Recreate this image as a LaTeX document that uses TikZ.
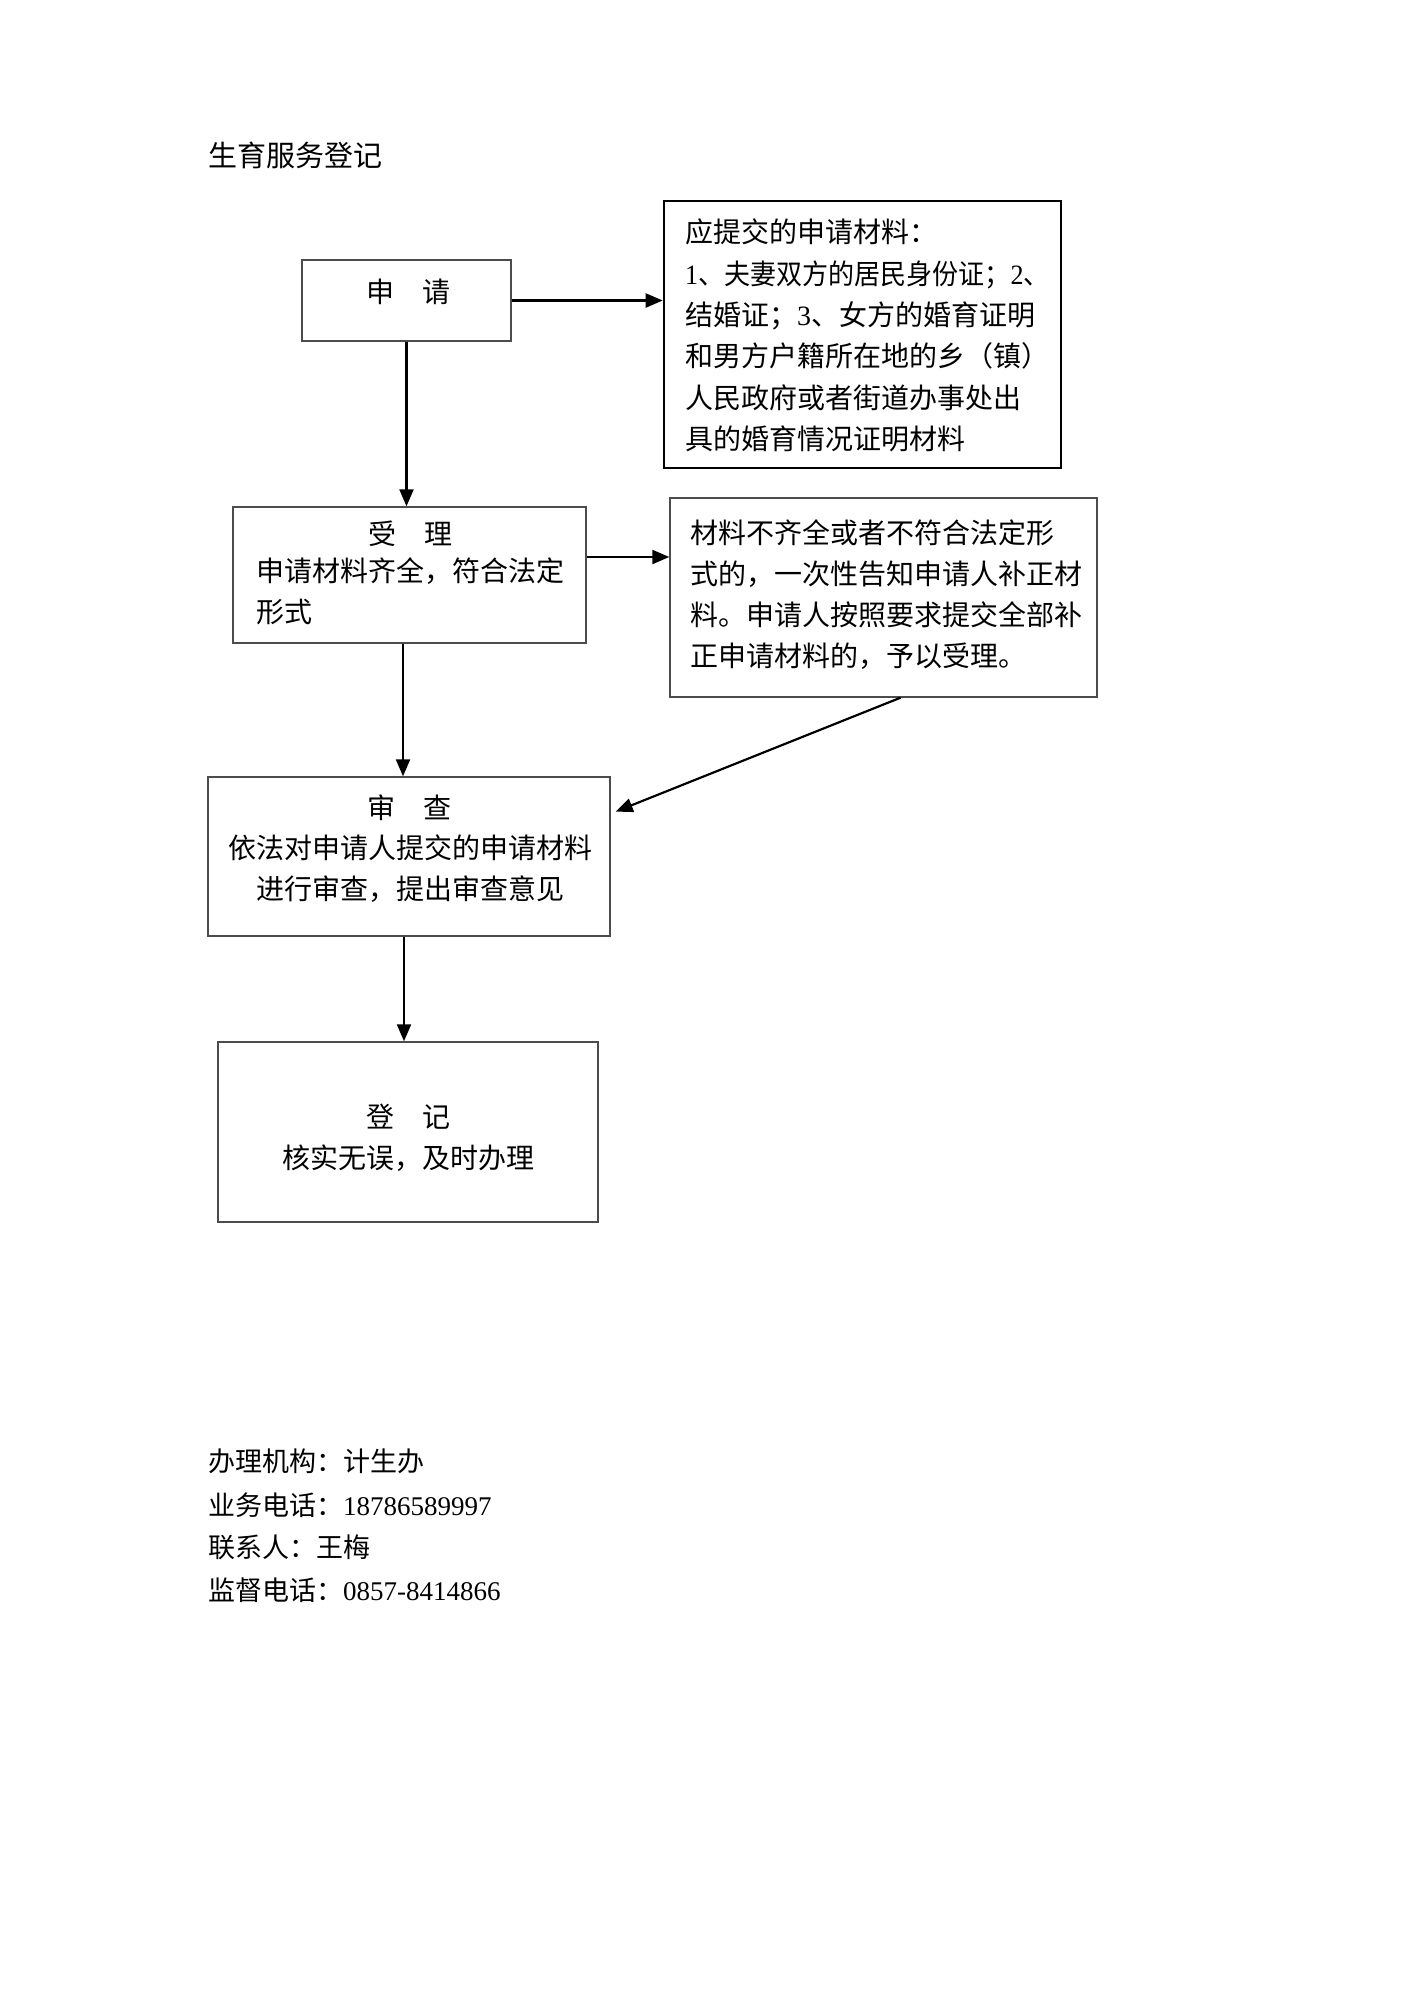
\documentclass[tikz,border=0pt]{standalone}
\usepackage{fontspec}
\setmainfont{Liberation Serif}
\newfontfamily\cjk{Noto Sans CJK SC}
\newfontfamily\cjkn[FakeStretch=0.93]{Noto Sans CJK SC}
\newfontfamily\serifn[FakeStretch=0.93]{Liberation Serif}
\usetikzlibrary{arrows.meta,calc}
\begin{document}
\begin{tikzpicture}[x=1pt,y=-1pt,
  box/.style={draw=black!70,line width=1.4pt,rectangle,inner sep=0pt},
  boldbox/.style={draw=black,line width=2.6pt,rectangle,inner sep=0pt},
  txt/.style={font=\cjk\fontsize{28}{41}\selectfont,inner sep=0pt,align=left},
  ctxt/.style={font=\cjk\fontsize{28}{41}\selectfont,inner sep=0pt,align=center},
  ntxt/.style={font=\cjk\fontsize{28}{41.3}\selectfont,inner sep=0pt,align=left},
  info/.style={font=\cjk\fontsize{27}{27}\selectfont,inner sep=0pt,anchor=west},
  arr/.style={line width=2.2pt,-{Triangle[length=17pt,width=14pt]}}]
\useasboundingbox[fill=white] (0,0) rectangle (1413,1998);

\node[anchor=west,font=\cjk\fontsize{29}{29}\selectfont,inner sep=0pt] (title) at (208,155) {生育服务登记};

% boxes
\node[box,minimum width=209,minimum height=81] (apply) at (406.5,300.5) {};
\node[ctxt] (applyt) at (408,292) {申\hspace{1em}请};

\node[boldbox,minimum width=397,minimum height=267] (mat1) at (862.5,334.5) {};
\node[ntxt,anchor=north west] (mat1t) at (685,219) {应提交的申请材料：\\{\cjkn{\serifn 1}、夫妻双方的居民身份证；{\serifn 2}、}\\结婚证；{\rmfamily 3}、女方的婚育证明\\和男方户籍所在地的乡（镇）\\人民政府或者街道办事处出\\具的婚育情况证明材料};

\node[box,minimum width=353,minimum height=136] (acc) at (409.5,575) {};
\node[ctxt] (acc1) at (410,534) {受\hspace{1em}理};
\node[txt,anchor=north west] (acc2) at (256,557) {申请材料齐全，符合法定\\形式};

\node[box,minimum width=427,minimum height=199] (mat2) at (883.5,597.5) {};
\node[ntxt,anchor=north west] (mat2t) at (690,519) {材料不齐全或者不符合法定形\\式的，一次性告知申请人补正材\\料。申请人按照要求提交全部补\\正申请材料的，予以受理。};

\node[box,minimum width=402,minimum height=159] (rev) at (409,856.5) {};
\node[ctxt] (rev1) at (409,808) {审\hspace{1em}查};
\node[ctxt,anchor=north] (rev2) at (410,835) {依法对申请人提交的申请材料\\进行审查，提出审查意见};

\node[box,minimum width=380,minimum height=180] (reg) at (408,1132) {};
\node[ctxt] (reg1) at (408,1117) {登\hspace{1em}记};
\node[ctxt] (reg2) at (408,1158) {核实无误，及时办理};

% connectors
\draw[arr] (apply.east) -- (apply.east -| mat1.west);
\draw[arr] (apply.south) -- (apply.south |- acc.north);
\draw[arr] (acc.east |- 0,557) -- (mat2.west |- 0,557);
\draw[arr] (acc.south -| 403,0) -- (rev.north -| 403,0);
\draw[arr] ($(mat2.south)+(17,0)$) -- ($(rev.north east)!0.22!(rev.south east)+(5,0)$);
\draw[arr] (rev.south -| 404,0) -- (reg.north -| 404,0);

% info
\node[info] (info1) at (208,1461) {办理机构：计生办};
\node[info] (info2) at (208,1505) {业务电话：{\rmfamily 18786589997}};
\node[info] (info3) at (208,1547) {联系人：王梅};
\node[info] (info4) at (208,1590) {监督电话：{\rmfamily 0857-8414866}};
\end{tikzpicture}
\end{document}
